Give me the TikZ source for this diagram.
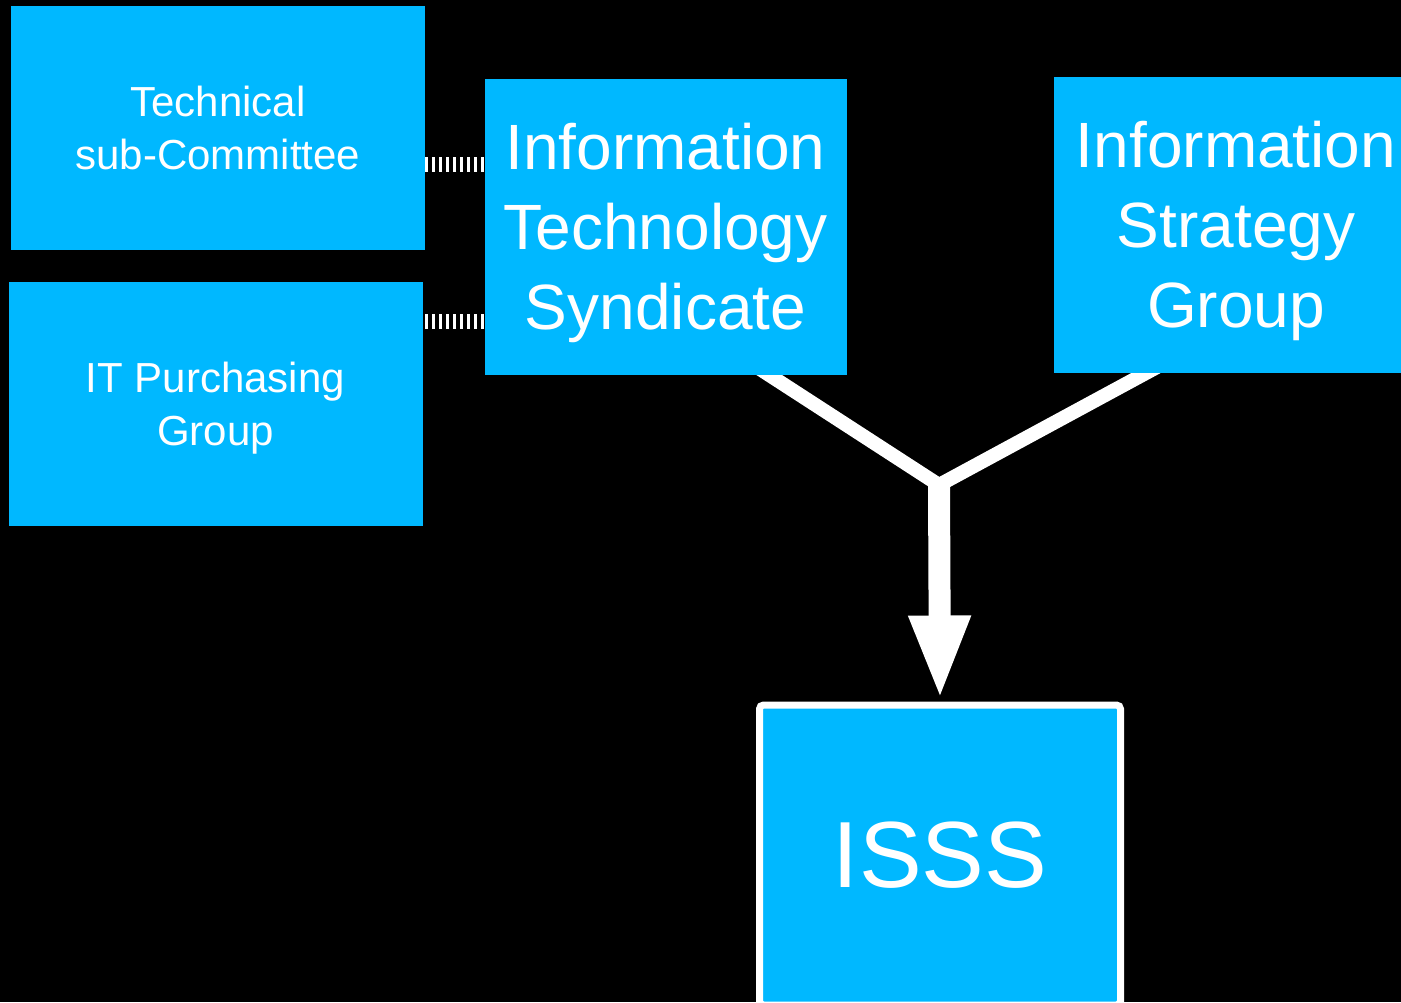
\documentclass[tikz,border=0pt]{standalone}
\usepackage{fontspec}
\setmainfont{Liberation Sans}
\usepackage{tikz}
\usetikzlibrary{arrows.meta, positioning, calc, backgrounds}
\definecolor{BoxBlue}{HTML}{00B8FF}
\newcommand{\padtop}[1]{\rule{0pt}{#1}}

\begin{document}
\begin{tikzpicture}[
    x=0.5pt, y=-0.5pt,
    unit/.style={
      fill=BoxBlue, text=white, align=center, inner sep=0pt
    },
    small/.style={unit, minimum width=207pt, minimum height=122pt,
      font=\fontsize{21}{26.5}\selectfont},
    big/.style={unit, minimum width=181pt, minimum height=148pt,
      font=\fontsize{32}{40}\selectfont},
    link/.style={white, line width=7.5pt, dash pattern=on 1.7pt off 1.8pt},
    feed/.style={white, line width=7pt, line join=miter}
  ]
    \useasboundingbox (0,0) rectangle (1401,1002);

    \node[small] (tech) at (218,128) {Technical\\sub-Committee};
    \node[small] (purch) at (215.5,403.5) {\padtop{20.3pt}IT Purchasing\\Group};
    \node[big] (its) at (665.5,227) {\padtop{29.3pt}Information\\Technology\\Syndicate};
    \node[big, minimum width=182pt] (isg) at (1236,225) {\padtop{29.3pt}Information\\Strategy\\Group};
    \node[unit, draw=white, line width=3.5pt, rounded corners=2pt,
      minimum width=180.5pt, minimum height=150pt,
      font=\fontsize{47}{56}\selectfont] (isss) at (940,855) {ISSS};

    % dotted links into the syndicate
    \coordinate (l1) at ($(its.north west)!0.29!(its.south west)$);
    \coordinate (l2) at ($(its.north west)!0.82!(its.south west)$);
    \draw[link] (l1) -- (l1 -| tech.east);
    \draw[link] (l2) -- (l2 -| purch.east);

    % both groups feed the ISSS
    \coordinate (join) at (939,485);
    \begin{scope}[on background layer]
      \fill[black] (0,0) rectangle (1401,1002);
      \draw[feed] ([xshift=46pt, yshift=4pt]its.south) -- (join)
        -- ([xshift=-38pt, yshift=4pt]isg.south);
    \end{scope}
    \draw[white, line width=11pt, -{Triangle[length=42.5pt, width=28pt]},
      shorten >=0.5pt] (join) -- (isss.north);
  \end{tikzpicture}
\end{document}
